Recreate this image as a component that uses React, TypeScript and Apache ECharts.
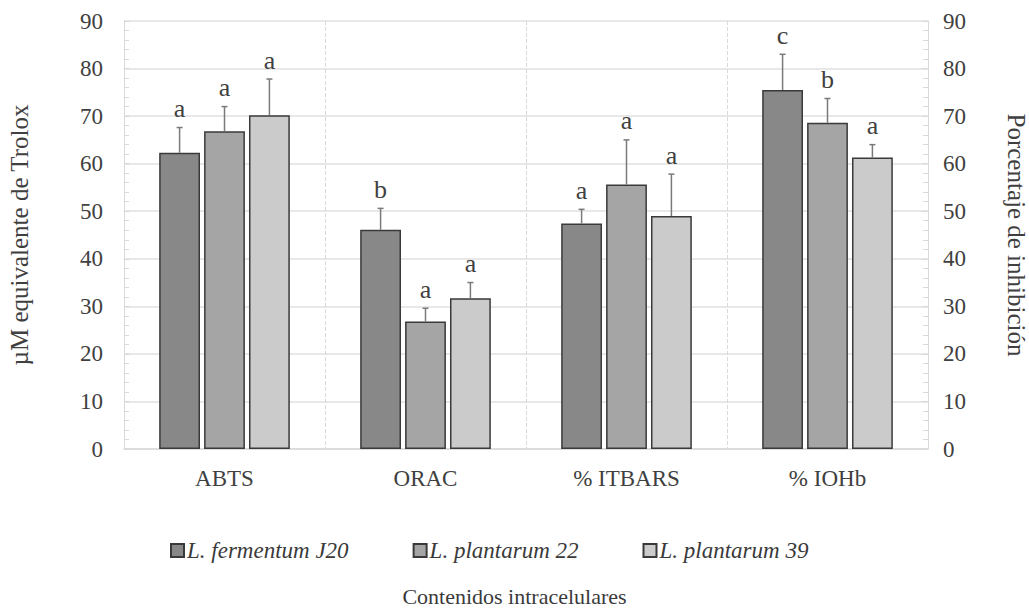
import React, { useEffect, useRef } from "react";
import * as echarts from "echarts";

const categories = ["ABTS", "ORAC", "% ITBARS", "% IOHb"];
const seriesNames = ["L. fermentum J20", "L. plantarum 22", "L. plantarum 39"];
const fermentumJ20 = [62.3, 46.1, 47.4, 75.5];
const plantarum22 = [66.8, 26.8, 55.6, 68.6];
const plantarum39 = [70.2, 31.7, 49.0, 61.3];
const errTopJ20 = [67.6, 50.6, 50.4, 83.0];
const errTop22 = [72.0, 29.6, 65.0, 73.7];
const errTop39 = [77.8, 35.0, 57.8, 64.0];
const lettersJ20 = ["a", "b", "a", "c"];
const letters22 = ["a", "a", "a", "b"];
const letters39 = ["a", "a", "a", "a"];
const yTicks = [0, 90, 10];

const values = [fermentumJ20, plantarum22, plantarum39];
const errTops = [errTopJ20, errTop22, errTop39];
const letters = [lettersJ20, letters22, letters39];
const colors = ["#888888", "#a5a5a5", "#cbcbcb"];

const FONT = "Liberation Serif";
const CAT_GAP = 0.35;
const BAR_GAP = 0.1;

export default function App() {
  const ref = useRef<HTMLDivElement>(null);
  useEffect(() => {
    if (!ref.current) return;
    const chart = echarts.init(ref.current, undefined, { renderer: "svg" });
    const n = seriesNames.length;

    const barSeries = seriesNames.map((name, si) => ({
      name,
      type: "bar",
      data: values[si],
      barCategoryGap: CAT_GAP * 100 + "%",
      barGap: BAR_GAP * 100 + "%",
      itemStyle: { color: colors[si], borderColor: "#3a3a3a", borderWidth: 1.5 },
      z: 2,
    }));

    const errSeries = seriesNames.map((name, si) => ({
      name: name + " err",
      type: "custom",
      z: 3,
      data: categories.map((_, ci) => [ci, values[si][ci], errTops[si][ci]]),
      renderItem: (params: any, api: any) => {
        const ci = api.value(0);
        const band = api.size([1, 0])[0];
        const remained = band - band * CAT_GAP;
        const w = remained / (n + (n - 1) * BAR_GAP);
        const total = n * w + (n - 1) * w * BAR_GAP;
        const cx0 = -total / 2 + si * w * (1 + BAR_GAP) + w / 2;
        const pBase = api.coord([ci, api.value(1)]);
        const pTop = api.coord([ci, api.value(2)]);
        const x = pBase[0] + cx0;
        const letter = letters[si][ci];
        return {
          type: "group",
          children: [
            {
              type: "line",
              shape: { x1: x, y1: pBase[1], x2: x, y2: pTop[1] },
              style: { stroke: "#7a7a7a", lineWidth: 1.5 },
            },
            {
              type: "line",
              shape: { x1: x - 3, y1: pTop[1], x2: x + 3, y2: pTop[1] },
              style: { stroke: "#7a7a7a", lineWidth: 1.5 },
            },
            {
              type: "text",
              x: x,
              y: pTop[1] - 6,
              style: {
                text: letter,
                fill: "#404040",
                fontFamily: FONT,
                fontSize: 26,
                align: "center",
                verticalAlign: "bottom",
              },
            },
          ],
        };
      },
    }));

    chart.setOption({
      animation: false,
      backgroundColor: "#ffffff",
      textStyle: { fontFamily: FONT },
      grid: { left: 124, right: 101, top: 21, bottom: 165, containLabel: false, outerBoundsMode: "none" },
      legend: {
        data: seriesNames,
        top: 534,
        left: 165,
        icon: "rect",
        itemWidth: 13,
        itemHeight: 13,
        itemGap: 64,
        textStyle: { fontFamily: FONT, fontStyle: "italic", fontSize: 23, color: "#3a3a3a", padding: [0, 0, 0, -2] },
      },
      graphic: [
        {
          type: "text",
          left: "center",
          top: 585,
          style: { text: "Contenidos intracelulares", fontFamily: FONT, fontSize: 22, fill: "#3a3a3a" },
        },
      ],
      xAxis: {
        type: "category",
        data: categories,
        axisLine: { show: true, lineStyle: { color: "#d9d9d9", width: 1.5 } },
        axisTick: { show: false },
        axisLabel: { fontFamily: FONT, fontSize: 23, color: "#404040", margin: 18 },
        splitLine: { show: true, lineStyle: { color: "#d9d9d9", type: "dashed" } },
      },
      yAxis: [
        {
          type: "value",
          min: yTicks[0],
          max: yTicks[1],
          interval: yTicks[2],
          position: "left",
          name: "µM equivalente de Trolox",
          nameLocation: "middle",
          nameGap: 92,
          nameTextStyle: { fontFamily: FONT, fontSize: 25, color: "#404040" },
          axisLine: { show: true, lineStyle: { color: "#d9d9d9" } },
          axisTick: { show: true, inside: true, length: 6, lineStyle: { color: "#d9d9d9" } },
          minorTick: { show: true, splitNumber: 5, length: 5, lineStyle: { color: "#d9d9d9" } },
          axisLabel: { fontFamily: FONT, fontSize: 23, color: "#404040", margin: 21 },
          splitLine: { show: true, lineStyle: { color: "#e0e0e0", width: 1.5 } },
        },
        {
          type: "value",
          min: yTicks[0],
          max: yTicks[1],
          interval: yTicks[2],
          position: "right",
          name: "Porcentaje de inhibición",
          nameLocation: "middle",
          nameRotate: -90,
          nameGap: 76,
          nameTextStyle: { fontFamily: FONT, fontSize: 25, color: "#404040" },
          axisLine: { show: true, lineStyle: { color: "#d9d9d9" } },
          axisTick: { show: true, inside: true, length: 6, lineStyle: { color: "#d9d9d9" } },
          minorTick: { show: true, splitNumber: 5, length: 5, lineStyle: { color: "#d9d9d9" } },
          axisLabel: { fontFamily: FONT, fontSize: 23, color: "#404040", margin: 15 },
          splitLine: { show: false },
        },
      ],
      series: [...barSeries, ...errSeries],
    });
    return () => chart.dispose();
  }, []);
  return <div ref={ref} style={{ position: "fixed", left: 0, top: 0, width: 1029, height: 614 }} />;
}
